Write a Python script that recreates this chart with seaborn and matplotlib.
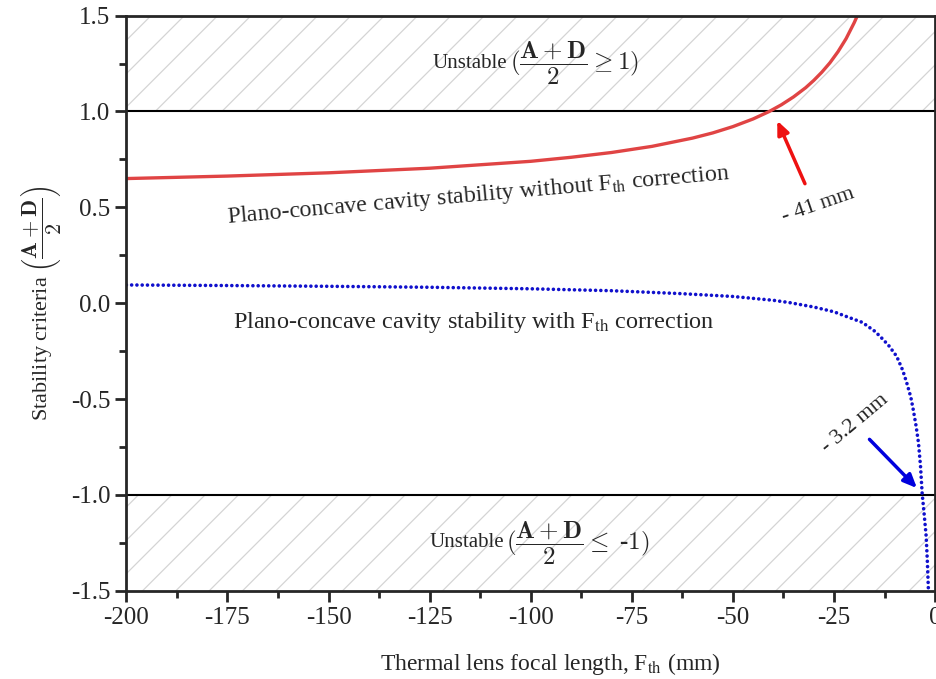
import matplotlib
matplotlib.use("Agg")
import matplotlib.pyplot as plt
import seaborn as sns
import pandas as pd

# stability (A+D)/2 vs thermal lens focal length
f_red = [-200, -175, -150, -125, -100, -90, -80, -70, -60, -55, -50, -45, -41,
         -38, -35, -32, -30, -28, -26, -24, -22, -20, -19]
g_red = [0.650, 0.663, 0.680, 0.704, 0.740, 0.761, 0.786, 0.818, 0.861, 0.888,
         0.921, 0.961, 1.000, 1.035, 1.076, 1.124, 1.162, 1.205, 1.254, 1.312,
         1.380, 1.463, 1.510]

f_blue = [-200, -175, -150, -125, -100, -80, -63, -50, -40, -36, -30, -25, -22,
          -18, -15, -13.6, -11.5, -9.5, -8, -7, -6, -5.4, -4.7, -4.1, -3.6,
          -3.2, -2.7, -2.2, -1.9, -1.65, -1.6]
g_blue = [0.095, 0.092, 0.088, 0.083, 0.075, 0.065, 0.050, 0.035, 0.015, 0.003,
          -0.020, -0.045, -0.069, -0.100, -0.145, -0.173, -0.220, -0.277, -0.350,
          -0.416, -0.490, -0.555, -0.640, -0.729, -0.850, -0.990, -1.100, -1.216,
          -1.350, -1.494, -1.520]

x_ticks = [-200, -175, -150, -125, -100, -75, -50, -25, 0]
y_ticks = [-1.5, -1.0, -0.5, 0.0, 0.5, 1.0, 1.5]

df_red = pd.DataFrame({"F": f_red, "g": g_red})
df_blue = pd.DataFrame({"F": f_blue, "g": g_blue})

sns.set_style("ticks")
plt.rcParams['font.family'] = ['Liberation Serif', 'DejaVu Serif']
plt.rcParams['mathtext.fontset'] = 'cm'
plt.rcParams['hatch.color'] = '#d4d4d4'
plt.rcParams['hatch.linewidth'] = 0.9

fig = plt.figure(figsize=(9.36, 6.79), dpi=100)
ax = fig.add_axes([0.135, 0.130, 0.864, 0.847])

# unstable bands
ax.axhspan(1.0, 1.5, facecolor='none', edgecolor='#d4d4d4', hatch='/', lw=0)
ax.axhspan(-1.5, -1.0, facecolor='none', edgecolor='#d4d4d4', hatch='/', lw=0)
ax.axhline(1.0, color='black', lw=1.5)
ax.axhline(-1.0, color='black', lw=1.5)

sns.lineplot(data=df_red, x="F", y="g", ax=ax, color='#e04444', lw=2.4)
sns.lineplot(data=df_blue, x="F", y="g", ax=ax, color='#1010cc', lw=2.6,
             linestyle=(0, (0.01, 1.45)), dash_capstyle='round')

ax.set_xlim(-200, 0)
ax.set_ylim(-1.5, 1.5)
ax.set_xticks(x_ticks)
ax.set_xticklabels([str(t) for t in x_ticks])
ax.set_yticks(y_ticks)
ax.set_yticklabels([f"{t:.1f}" for t in y_ticks])
ax.set_xticks([t + 12.5 for t in x_ticks[:-1]], minor=True)
ax.set_yticks([t + 0.25 for t in y_ticks[:-1]], minor=True)
ax.tick_params(which='major', direction='out', length=8, width=2, labelsize=18)
ax.tick_params(which='minor', direction='out', length=5, width=2)
for s in ax.spines.values():
    s.set_linewidth(2)

ax.set_xlabel(r"Thermal lens focal length, F$_{\rm th}$ (mm)", fontsize=17,
              labelpad=10, math_fontfamily='stix')
ax.xaxis.set_label_coords(0.524, -0.105)
ax.set_ylabel(r"Stability criteria $\left(\dfrac{\mathbf{A+D}}{\mathbf{2}}\right)$",
              fontsize=16, labelpad=6)

ax.text(-105.8, 1.25, "Unstable", fontsize=15, ha='right', va='center')
ax.text(-105.2, 1.25, r"$(\dfrac{\mathbf{A+D}}{\mathbf{2}}\geq\mathbf{1})$",
        fontsize=18, ha='left', va='center')
ax.text(-106.6, -1.25, "Unstable", fontsize=15, ha='right', va='center')
ax.text(-106.0, -1.25, r"$(\dfrac{\mathbf{A+D}}{\mathbf{2}}\leq$ -$\mathbf{1})$",
        fontsize=18, ha='left', va='center', fontweight='bold')

ax.text(-113, 0.56, r"Plano-concave cavity stability without F$_{\rm th}$ correction",
        fontsize=17.2, ha='center', va='center', rotation=5, math_fontfamily='stix')
ax.text(-114, -0.10, r"Plano-concave cavity stability with F$_{\rm th}$ correction",
        fontsize=17.5, ha='center', va='center', math_fontfamily='stix')

ax.annotate("", xy=(-39.3, 0.965), xytext=(-31.9, 0.61),
            arrowprops=dict(arrowstyle='-|>,head_length=0.8,head_width=0.35',
                            color='#ee1111', lw=2.5))
ax.text(-28.9, 0.51, "- 41 mm", fontsize=16, ha='center', va='center', rotation=19)

ax.annotate("", xy=(-4.0, -0.975), xytext=(-16.7, -0.70),
            arrowprops=dict(arrowstyle='-|>,head_length=0.8,head_width=0.35',
                            color='#0000dd', lw=2.5))
ax.text(-19.8, -0.63, "- 3.2 mm", fontsize=16, ha='center', va='center', rotation=40)

fig.savefig("out.png", dpi=100)
